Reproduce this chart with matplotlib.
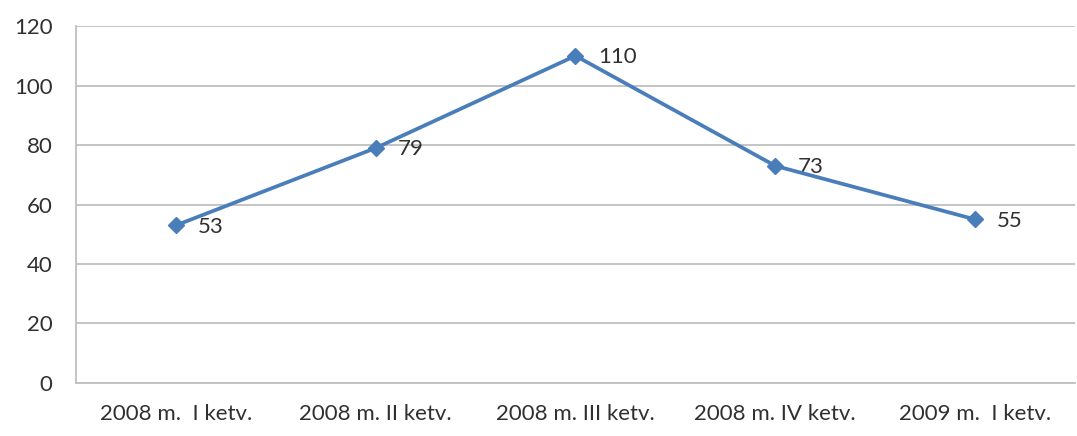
import matplotlib
matplotlib.use("Agg")
from matplotlib import pyplot as plt

# duomenys
ketvirciai = ["2008 m.  I ketv.", "2008 m. II ketv.", "2008 m. III ketv.",
              "2008 m. IV ketv.", "2009 m.  I ketv."]
reiksmes = [53, 79, 110, 73, 55]
y_ticks = [0, 20, 40, 60, 80, 100, 120]

plt.rcParams['font.family'] = ['Lato', 'DejaVu Sans']

fig = plt.figure(figsize=(10.77, 4.36), dpi=100)
ax = fig.add_axes([0.0706, 0.1216, 0.9275, 0.8186])

x = list(range(len(ketvirciai)))
ax.plot(x, reiksmes, color='#4A7EBB', linewidth=2.7, marker='D',
        markersize=8.5, zorder=5)

for xi, v in zip(x, reiksmes):
  ax.annotate(str(v), (xi, v), xytext=(16, -1), textcoords='offset points',
              ha='left', va='center', fontsize=16, color='#303030')

ax.set_xlim(-0.5, len(ketvirciai) - 0.5)
ax.set_ylim(0, 120)
ax.set_yticks(y_ticks)
ax.set_xticks(x)
ax.set_xticklabels(ketvirciai)
ax.yaxis.grid(True, color='#BFBFBF', linewidth=1.3)
ax.set_axisbelow(True)

for s in ['top', 'right']:
  ax.spines[s].set_visible(False)
for s in ['left', 'bottom']:
  ax.spines[s].set_color('#BFBFBF')
  ax.spines[s].set_linewidth(1.3)

ax.tick_params(axis='both', length=0, labelsize=16, colors='#303030')
ax.tick_params(axis='x', pad=15)
ax.tick_params(axis='y', pad=17)

fig.savefig('out.png', dpi=100)
